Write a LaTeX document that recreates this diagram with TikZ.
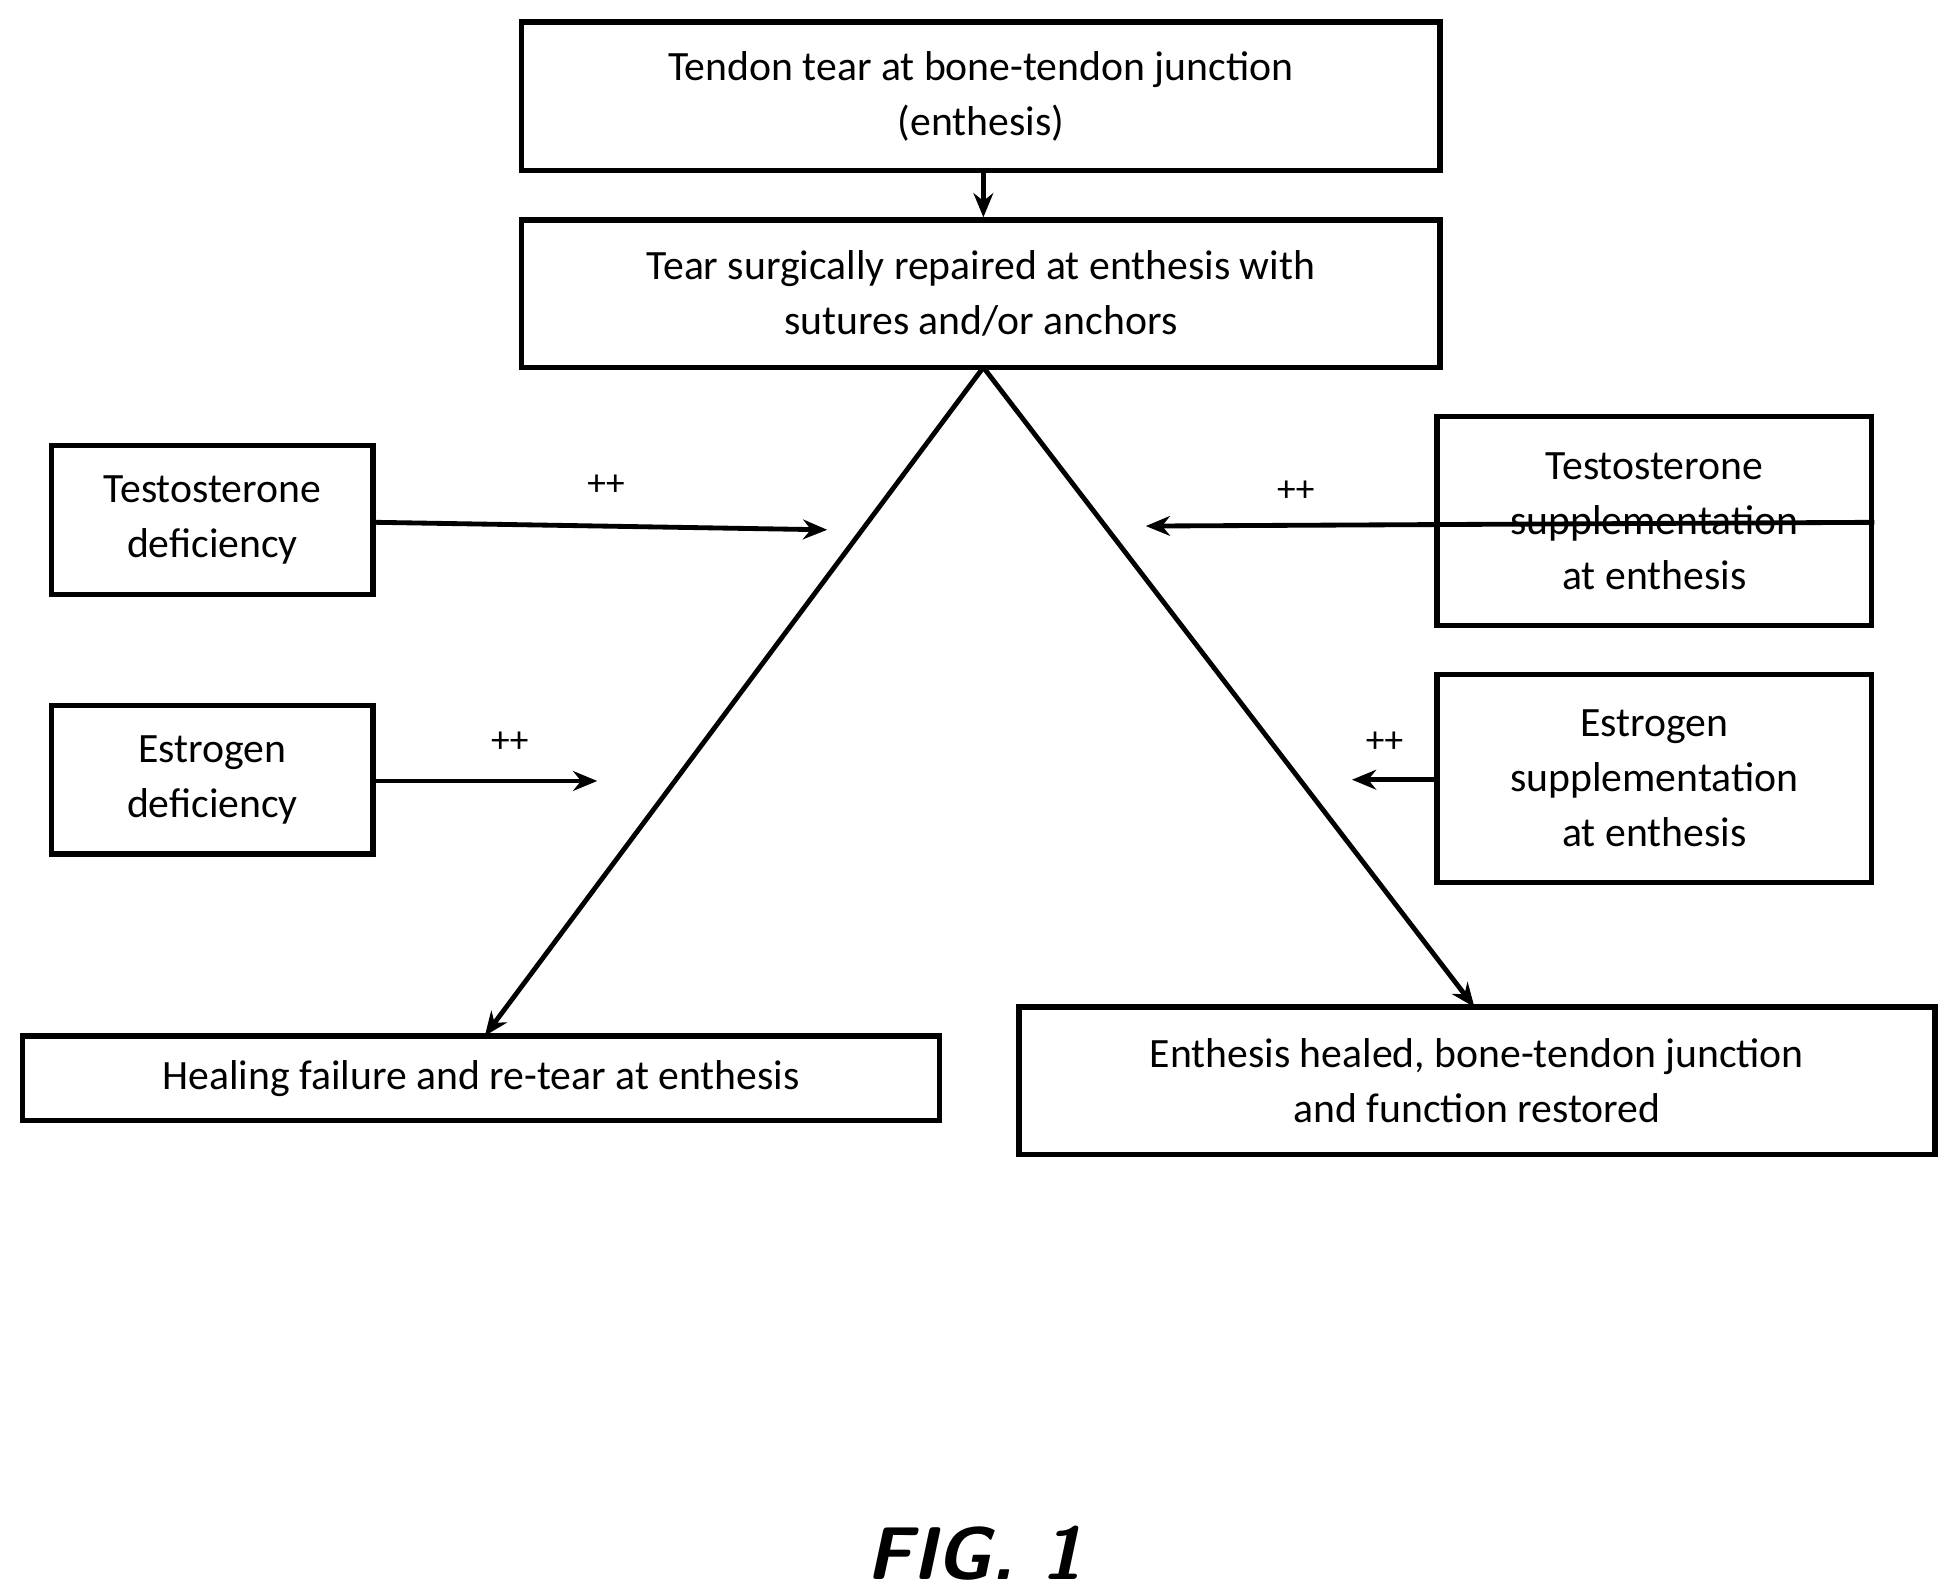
\documentclass[tikz,border=0pt]{standalone}
\usepackage{fontspec}
\setmainfont{Carlito}
\usetikzlibrary{arrows.meta}
\begin{document}
\begin{tikzpicture}[x=0.02cm,y=-0.02cm,
  box/.style={draw,line width=2.4pt,inner sep=0pt,align=center,font=\fontsize{19}{25}\selectfont},
  arr/.style={line width=2.2pt,-{Stealth[length=11pt,width=9pt]}},
  pp/.style={font=\fontsize{17}{20}\selectfont}]
\useasboundingbox (0,0) rectangle (1563,1276);
\node[box,minimum width=735*0.02cm,minimum height=119*0.02cm] (top) at (785,77) {Tendon tear at bone-tendon junction\\(enthesis)};
\node[box,minimum width=735*0.02cm,minimum height=118*0.02cm] (rep) at (785,235) {Tear surgically repaired at enthesis with\\sutures and/or anchors};
\node[box,minimum width=257*0.02cm,minimum height=119*0.02cm] (td) at (170,416) {Testosterone\\deficiency};
\node[box,minimum width=257*0.02cm,minimum height=119*0.02cm] (ed) at (170,624) {Estrogen\\deficiency};
\node[box,minimum width=348*0.02cm,minimum height=167*0.02cm] (ts) at (1324,417) {Testosterone\\supplementation\\at enthesis};
\node[box,minimum width=348*0.02cm,minimum height=166*0.02cm] (es) at (1324,623) {Estrogen\\supplementation\\at enthesis};
\node[box,minimum width=734*0.02cm,minimum height=68*0.02cm] (fail) at (385,863) {Healing failure and re-tear at enthesis};
\node[box,minimum width=733*0.02cm,minimum height=118*0.02cm] (heal) at (1182,865) {Enthesis healed, bone-tendon junction\\and function restored};
\coordinate (apex) at (787,294);
\coordinate (c1) at (662,424);
\coordinate (c2) at (478,625);
\coordinate (c3) at (917,421);
\coordinate (c4) at (1082,624);
\draw[arr] (top.south -| apex) -- (rep.north -| apex);
\draw[arr] (apex) -- (388,829);
\draw[arr] (apex) -- (1180,806);
\draw[arr] (td.east |- 0,418) -- (c1);
\draw[arr] (ed.east |- 0,625) -- (c2);
\draw[arr] (ts.east |- 0,418) -- (c3);
\draw[arr] (es.west |- 0,624) -- (c4);
\node[pp] (p1) at (485,388) {++};
\node[pp] (p2) at (408,594) {++};
\node[pp] (p3) at (1037,393) {++};
\node[pp] (p4) at (1108,594) {++};
\node[font=\fontsize{34}{40}\selectfont\sffamily\bfseries\itshape] (fig) at (780,1243) {FIG. 1};
\end{tikzpicture}
\end{document}
